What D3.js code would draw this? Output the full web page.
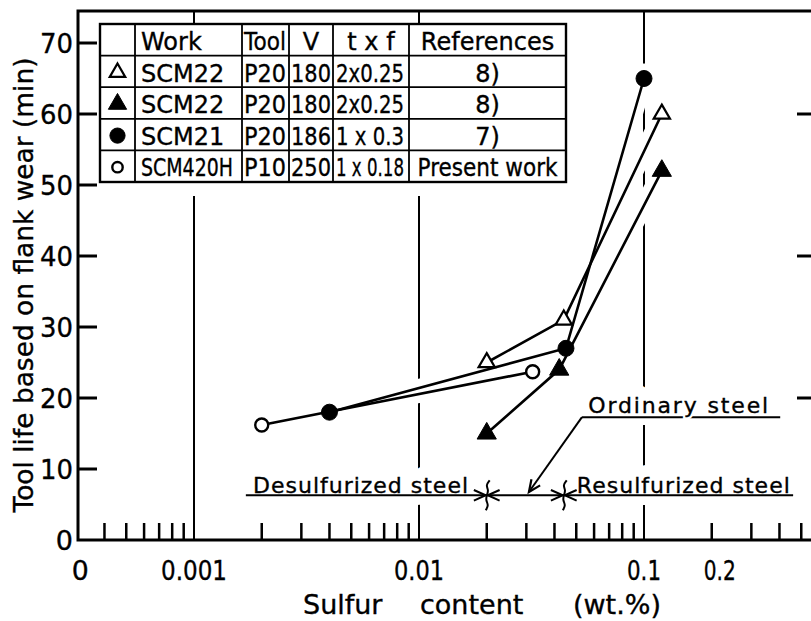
<!DOCTYPE html>
<html>
<head>
<meta charset="utf-8">
<script src="https://cdn.jsdelivr.net/npm/d3@7/dist/d3.min.js"></script>
<style>
  body { margin: 0; background: #fff; }
  svg { display: block; font-family: "DejaVu Sans", sans-serif; }
  text { stroke: #000; stroke-width: 0.35px; }
</style>
</head>
<body>
<div id="chart"></div>
<script>
(function(d3) {
  'use strict';

  // data: [sulfur wt.%, tool life min]
  var scm22Open   = [[0.02, 25], [0.044, 31], [0.12, 60]];
  var scm22Filled = [[0.02, 15], [0.042, 24], [0.12, 52]];
  var scm21       = [[0.004, 18], [0.045, 27], [0.1, 65]];
  var scm420h     = [[0.002, 16.2], [0.032, 23.7]];

  var yTicks = [0, 10, 20, 30, 40, 50, 60, 70];
  var yTicksRight = [20, 40, 60];
  var xLabelValues = [0.0003, 0.001, 0.01, 0.1, 0.2];
  var xLabels = ['0', '0.001', '0.01', '0.1', '0.2'];
  var decades = [0.001, 0.01, 0.1];

  var tableHeader = ['', 'Work', 'Tool', 'V', 't x f', 'References'];
  var tableWork = ['SCM22', 'SCM22', 'SCM21', 'SCM420H'];
  var tableTool = ['P20', 'P20', 'P20', 'P10'];
  var tableV = ['180', '180', '186', '250'];
  var tableTxf = ['2x0.25', '2x0.25', '1 x 0.3', '1 x 0.18'];
  var tableRef = ['8)', '8)', '7)', 'Present work'];

  // steel class annotation (sulfur limits, in data units)
  var steelBreaks = [0.02, 0.044];
  var steelLineLevel = 6.3;
  var steelLineSpan = [0.0017, 0.46];

  var width = 811, height = 621;
  var left = 78, top = 11, right = 815, bottom = 540;

  var x = d3.scaleLog().domain([0.001, 0.1]).range([194, 644]);
  var y = d3.scaleLinear().domain([0, 70]).range([540, 43]);

  var svg = d3.select('#chart').append('svg')
    .attr('width', width).attr('height', height);

  var gGrid = svg.append('g');
  var gHalo = svg.append('g');
  var gAnno = svg.append('g');
  var gAxes = svg.append('g');
  var gData = svg.append('g');
  var gText = svg.append('g');
  var gTable = svg.append('g');

  // squeeze a text to a max width if the font is wider than the original
  function fit(sel, maxW) {
    sel.each(function() {
      if (this.getComputedTextLength() > maxW) {
        d3.select(this).attr('textLength', maxW).attr('lengthAdjust', 'spacingAndGlyphs');
      }
    });
  }

  // gridlines at decades + minor ticks
  gGrid.selectAll('.grid').data(decades).enter().append('line')
    .attr('x1', x).attr('x2', x).attr('y1', top).attr('y2', bottom)
    .attr('stroke', '#000').attr('stroke-width', 2);

  var minor = d3.scaleLog().domain([0.0004, 0.5]).ticks()
    .filter(function(v) { return decades.indexOf(v) < 0; });
  gGrid.selectAll('.minor').data(minor).enter().append('line')
    .attr('x1', x).attr('x2', x).attr('y1', bottom - 17).attr('y2', bottom)
    .attr('stroke', '#000').attr('stroke-width', 2.5);

  var series = [
    { data: scm22Open, type: 'tri', filled: false },
    { data: scm22Filled, type: 'tri', filled: true },
    { data: scm21, type: 'circle', filled: true },
    { data: scm420h, type: 'circle', filled: false }
  ];

  var line = d3.line()
    .x(function(d) { return x(d[0]); })
    .y(function(d) { return y(d[1]); });

  // white halos break the gridlines where the curves cross them
  series.forEach(function(s) {
    gHalo.append('path').attr('d', line(s.data))
      .attr('fill', 'none').attr('stroke', '#fff').attr('stroke-width', 18);
    gHalo.selectAll(null).data(s.data).enter().append('circle')
      .attr('cx', function(d) { return x(d[0]); })
      .attr('cy', function(d) { return y(d[1]); })
      .attr('r', 15).attr('fill', '#fff');
  });

  function marker(sel, s, scale) {
    if (s.type === 'tri') {
      var size = s.filled ? 160 : 115;
      sel.append('path')
        .attr('d', d3.symbol().type(d3.symbolTriangle).size(size * scale * scale))
        .attr('fill', s.filled ? '#000' : '#fff')
        .attr('stroke', '#000').attr('stroke-width', s.filled ? 1 : 2.2);
    } else {
      sel.append('circle')
        .attr('r', (s.filled ? 8 : 6.5) * scale)
        .attr('fill', s.filled ? '#000' : '#fff')
        .attr('stroke', '#000').attr('stroke-width', s.filled ? 1 : 2.4);
    }
  }

  series.forEach(function(s) {
    gData.append('path').attr('d', line(s.data))
      .attr('fill', 'none').attr('stroke', '#000').attr('stroke-width', 2.6);
  });
  series.forEach(function(s) {
    gData.selectAll(null).data(s.data).enter().append('g')
      .attr('transform', function(d) { return 'translate(' + x(d[0]) + ',' + y(d[1]) + ')'; })
      .each(function() { marker(d3.select(this), s, 1); });
  });

  // axes frame
  gAxes.append('path')
    .attr('d', 'M' + right + ',' + top + 'H' + left + 'V' + bottom + 'H' + right)
    .attr('fill', 'none').attr('stroke', '#000').attr('stroke-width', 3);

  gAxes.selectAll('.yt').data(yTicks.filter(function(v) { return v > 0; })).enter().append('line')
    .attr('x1', left).attr('x2', left + 19)
    .attr('y1', y).attr('y2', y)
    .attr('stroke', '#000').attr('stroke-width', 3);

  gAxes.selectAll('.ytr').data(yTicksRight).enter().append('line')
    .attr('x1', right - 18).attr('x2', right)
    .attr('y1', y).attr('y2', y)
    .attr('stroke', '#000').attr('stroke-width', 3);

  gAxes.selectAll('.yl').data(yTicks).enter().append('text')
    .attr('x', 73).attr('y', function(d) { return y(d) + 10; })
    .attr('text-anchor', 'end').attr('font-size', 27)
    .text(function(d) { return d; })
    .call(fit, 33);

  var xLabelWidth = [17, 66, 50, 34, 32];
  gAxes.selectAll('.xl').data(xLabelValues).enter().append('text')
    .attr('x', function(d, i) { return x(d) + (i === 0 ? 4 : (i === 4 ? 8 : 0)); })
    .attr('y', 580)
    .attr('text-anchor', 'middle').attr('font-size', 27)
    .text(function(d, i) { return xLabels[i]; })
    .each(function(d, i) { fit(d3.select(this), xLabelWidth[i]); });

  gAxes.append('text')
    .attr('transform', 'translate(33,285) rotate(-90)')
    .attr('text-anchor', 'middle').attr('font-size', 26)
    .attr('textLength', 455).attr('lengthAdjust', 'spacingAndGlyphs')
    .text('Tool life based on flank wear (min)');

  var xTitle = [['Sulfur', 303], ['content', 420], ['(wt.%)', 573]];
  gAxes.selectAll('.xt').data(xTitle).enter().append('text')
    .attr('x', function(d) { return d[1]; }).attr('y', 614)
    .attr('font-size', 27)
    .text(function(d) { return d[0]; });

  // steel class annotation
  var ly = y(steelLineLevel);
  var annoText = [
    { t: 'Desulfurized  steel', x: 0.00183, v: 6.6, len: 215, cut: false },
    { t: 'Ordinary steel', x: 0.0565, v: 17.9, len: 180, cut: true },
    { t: 'Resulfurized  steel', x: 0.0503, v: 6.6, len: 213, cut: false }
  ];

  gHalo.selectAll('.th').data(annoText).enter().append('text')
    .attr('x', function(d) { return x(d.x); }).attr('y', function(d) { return y(d.v); })
    .attr('font-size', 22).attr('textLength', function(d) { return d.len; })
    .attr('fill', '#fff').style('stroke', '#fff').style('stroke-width', '24px')
    .attr('stroke-linejoin', 'round')
    .text(function(d) { return d.t; });

  gAnno.append('line')
    .attr('x1', x(steelLineSpan[0])).attr('x2', x(steelLineSpan[1]))
    .attr('y1', ly).attr('y2', ly)
    .attr('stroke', '#000').attr('stroke-width', 2);

  function chevron(tx, ty, ang) {
    var p = d3.path(), L = 13, a = 0.42;
    p.moveTo(tx - L * Math.cos(ang - a), ty - L * Math.sin(ang - a));
    p.lineTo(tx, ty);
    p.lineTo(tx - L * Math.cos(ang + a), ty - L * Math.sin(ang + a));
    return p.toString();
  }

  var wave = d3.line().curve(d3.curveBasis);
  var waveShape = [[3, -15], [-1, -10], [2, -5], [0, 0], [-1, 5], [2, 10], [-1, 15]];

  steelBreaks.forEach(function(b) {
    var bx = x(b);
    gAnno.append('path')
      .attr('d', wave(waveShape.map(function(p) { return [bx + p[0], ly + p[1]]; })))
      .attr('fill', 'none').attr('stroke', '#000').attr('stroke-width', 2);
    gAnno.append('path').attr('d', chevron(bx - 1, ly, 0))
      .attr('fill', 'none').attr('stroke', '#000').attr('stroke-width', 2);
    gAnno.append('path').attr('d', chevron(bx + 1, ly, Math.PI))
      .attr('fill', 'none').attr('stroke', '#000').attr('stroke-width', 2);
  });

  // ordinary steel underline and leader arrow
  var ordStart = [x(0.053), y(17.3)];
  var ordTip = [x(0.0308), y(6.76)];
  gAnno.append('line')
    .attr('x1', ordStart[0]).attr('x2', x(0.0565) + 192)
    .attr('y1', ordStart[1]).attr('y2', ordStart[1])
    .attr('stroke', '#000').attr('stroke-width', 2);
  gAnno.append('line')
    .attr('x1', ordStart[0]).attr('y1', ordStart[1])
    .attr('x2', ordTip[0]).attr('y2', ordTip[1])
    .attr('stroke', '#000').attr('stroke-width', 2);
  gAnno.append('path')
    .attr('d', chevron(ordTip[0], ordTip[1],
      Math.atan2(ordTip[1] - ordStart[1], ordTip[0] - ordStart[0])))
    .attr('fill', 'none').attr('stroke', '#000').attr('stroke-width', 2.2);

  // thin white outline so the "y" descender cuts the underline as in the original
  gText.selectAll('.ah').data(annoText.filter(function(d) { return d.cut; })).enter().append('text')
    .attr('x', function(d) { return x(d.x); }).attr('y', function(d) { return y(d.v); })
    .attr('font-size', 22).attr('textLength', function(d) { return d.len; })
    .style('stroke', '#fff').style('stroke-width', '5px')
    .text(function(d) { return d.t; });
  gText.selectAll('.at').data(annoText).enter().append('text')
    .attr('x', function(d) { return x(d.x); }).attr('y', function(d) { return y(d.v); })
    .attr('font-size', 22).attr('textLength', function(d) { return d.len; })
    .text(function(d) { return d.t; });

  // legend table
  var colX = [100, 135, 242, 289, 333, 409, 566];
  var rowY = d3.range(6).map(function(i) { return 24 + i * 31.6; });

  gTable.append('rect')
    .attr('x', colX[0]).attr('y', rowY[0])
    .attr('width', colX[6] - colX[0]).attr('height', rowY[5] - rowY[0] + 14)
    .attr('fill', '#fff');
  gTable.append('rect')
    .attr('x', colX[0]).attr('y', rowY[0])
    .attr('width', colX[6] - colX[0]).attr('height', rowY[5] - rowY[0])
    .attr('fill', 'none').attr('stroke', '#000').attr('stroke-width', 2.4);
  gTable.selectAll('.vl').data(colX.slice(1, 6)).enter().append('line')
    .attr('x1', function(d) { return d; }).attr('x2', function(d) { return d; })
    .attr('y1', rowY[0]).attr('y2', rowY[5])
    .attr('stroke', '#000').attr('stroke-width', 1.8);
  gTable.selectAll('.hl').data(rowY.slice(1, 5)).enter().append('line')
    .attr('x1', colX[0]).attr('x2', colX[6])
    .attr('y1', function(d) { return d; }).attr('y2', function(d) { return d; })
    .attr('stroke', '#000').attr('stroke-width', 1.8);

  var cols = [tableWork, tableTool, tableV, tableTxf, tableRef];
  var colAnchor = ['start', 'start', 'start', 'start', 'middle'];
  var colPad = [6, 2, 2, 3, 0];
  var colMax = [92, 42, 40, 68, 140];

  function cellX(c) {
    return colAnchor[c] === 'middle' ? (colX[c + 1] + colX[c + 2]) / 2 : colX[c + 1] + colPad[c];
  }

  tableHeader.slice(1).forEach(function(h, c) {
    var anchor = (c >= 2) ? 'middle' : 'start';
    gTable.append('text')
      .attr('x', anchor === 'middle' ? (colX[c + 1] + colX[c + 2]) / 2 : colX[c + 1] + colPad[c])
      .attr('y', rowY[0] + 26)
      .attr('text-anchor', anchor).attr('font-size', 24)
      .text(h)
      .call(fit, colMax[c]);
  });

  cols.forEach(function(col, c) {
    col.forEach(function(txt, r) {
      gTable.append('text')
        .attr('x', cellX(c)).attr('y', rowY[r + 1] + 26)
        .attr('text-anchor', colAnchor[c]).attr('font-size', 24)
        .text(txt)
        .call(fit, colMax[c]);
    });
  });

  series.forEach(function(s, r) {
    var g = gTable.append('g')
      .attr('transform', 'translate(' + ((colX[0] + colX[1]) / 2) + ',' + ((rowY[r + 1] + rowY[r + 2]) / 2 + 1) + ')');
    marker(g, s, s.type === 'circle' && !s.filled ? 0.8 : 0.95);
  });

})(window.d3);
</script>
</body>
</html>
